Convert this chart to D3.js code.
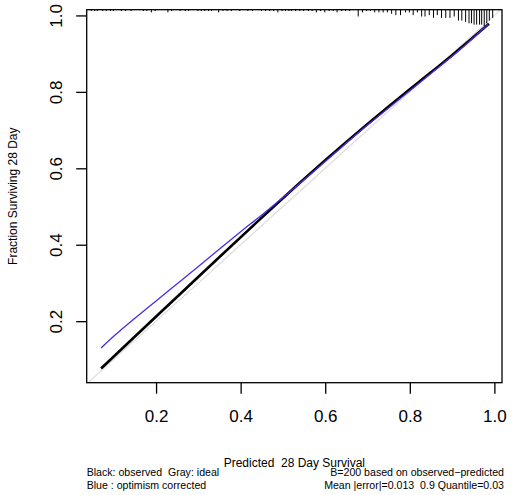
<!DOCTYPE html>
<html>
<head>
<meta charset="utf-8">
<script src="https://cdn.jsdelivr.net/npm/d3@7"></script>
<style>
  body { margin: 0; background: #fff; }
  svg { display: block; font-family: 'Liberation Sans', Arial, sans-serif; }
  text { white-space: pre; }
</style>
</head>
<body>
<div id="chart"></div>
<script>
'use strict'

// calibration curves (predicted -> fraction surviving)
const observedX = [0.070, 0.15, 0.25, 0.35, 0.45, 0.55, 0.60, 0.70, 0.80, 0.85, 0.90, 0.95, 0.987]
const observedY = [0.076, 0.160, 0.264, 0.368, 0.471, 0.572, 0.621, 0.716, 0.807, 0.851, 0.896, 0.943, 0.978]

const correctedX = [0.070, 0.09, 0.12, 0.16, 0.20, 0.25, 0.30, 0.35, 0.40, 0.45, 0.52, 0.60, 0.70, 0.80, 0.85, 0.90, 0.95, 0.985]
const correctedY = [0.130, 0.151, 0.180, 0.217, 0.253, 0.298, 0.343, 0.389, 0.434, 0.478, 0.542, 0.618, 0.713, 0.803, 0.848, 0.893, 0.941, 0.977]

// distribution of predicted values (rug along the top)
const rugPred = [0.047, 0.055, 0.061, 0.074, 0.082, 0.092, 0.099, 0.118, 0.128, 0.141, 0.170, 0.178, 0.189, 0.198,
    0.228, 0.237, 0.257, 0.269, 0.277, 0.299, 0.307, 0.315, 0.324, 0.331, 0.348, 0.358, 0.368, 0.378, 0.398,
    0.417, 0.428, 0.449, 0.459, 0.469, 0.478, 0.488, 0.498, 0.506, 0.514,
    0.520, 0.530, 0.540, 0.549, 0.560, 0.569, 0.579, 0.589, 0.599, 0.609, 0.619, 0.628, 0.639, 0.648, 0.658,
    0.678, 0.688, 0.698, 0.707, 0.717, 0.727, 0.737, 0.747, 0.757, 0.767, 0.778, 0.790, 0.799, 0.808, 0.818,
    0.828, 0.836, 0.846, 0.856, 0.865, 0.875, 0.885, 0.895, 0.905, 0.915, 0.923, 0.932, 0.940, 0.946, 0.952,
    0.958, 0.965, 0.970, 0.976, 0.982, 0.988, 0.996]
const rugCount = [1, 1, 1, 1, 1, 1, 1, 1, 1, 1, 1, 1, 2, 1,
    2, 1, 1, 1, 1, 1, 1, 1, 1, 1, 2, 1, 1, 1, 1,
    1, 1, 1, 1, 1, 1, 2, 1, 1, 1,
    1, 1, 1, 1, 1, 1, 2, 1, 2, 1, 1, 2, 1, 1, 1,
    5, 2, 1, 1, 2, 2, 2, 2, 3, 4, 4, 2, 2, 4, 2,
    5, 5, 4, 6, 4, 6, 6, 6, 5, 8, 8, 9, 10, 10, 11,
    11, 11, 11, 12, 10, 8, 6]

const xTicks = [0.2, 0.4, 0.6, 0.8, 1.0]
const yTicks = [0.2, 0.4, 0.6, 0.8, 1.0]

const width = 512,
    height = 495,
    box = { left: 86.7, right: 502, top: 9.7, bottom: 382.7 }

const x = d3.scaleLinear().domain([0.036, 1.018]).range([box.left, box.right])
const y = d3.scaleLinear().domain([0.039, 1.015]).range([box.bottom, box.top])
const rugLen = d3.scaleLinear().domain([0, d3.max(rugCount)]).range([0, 16.3])

const svg = d3.select('#chart')
    .append('svg')
    .attr('width', width)
    .attr('height', height)

svg.append('clipPath')
    .attr('id', 'plot-clip')
    .append('rect')
    .attr('x', box.left)
    .attr('y', box.top)
    .attr('width', box.right - box.left)
    .attr('height', box.bottom - box.top)

const plot = svg.append('g').attr('clip-path', 'url(#plot-clip)')

// ideal line
plot.append('line')
    .attr('x1', x(0)).attr('y1', y(0))
    .attr('x2', x(1.1)).attr('y2', y(1.1))
    .attr('stroke', '#dedede')
    .attr('stroke-width', 1.2)

const line = d3.line()
    .x(d => x(d[0]))
    .y(d => y(d[1]))
    .curve(d3.curveMonotoneX)

plot.append('path')
    .datum(observedX.map((v, i) => [v, observedY[i]]))
    .attr('d', line)
    .attr('fill', 'none')
    .attr('stroke', '#000')
    .attr('stroke-width', 2.6)

plot.append('path')
    .datum(correctedX.map((v, i) => [v, correctedY[i]]))
    .attr('d', line)
    .attr('fill', 'none')
    .attr('stroke', '#5128ec')
    .attr('stroke-width', 1.3)

// rug of predicted values
svg.append('g')
    .selectAll('line')
    .data(rugPred.map((v, i) => ({ p: v, n: rugCount[i] })))
    .enter()
    .append('line')
    .attr('x1', d => x(d.p)).attr('x2', d => x(d.p))
    .attr('y1', box.top)
    .attr('y2', d => box.top + rugLen(d.n))
    .attr('stroke', '#000')
    .attr('stroke-width', 1)

// frame
svg.append('rect')
    .attr('x', box.left)
    .attr('y', box.top)
    .attr('width', box.right - box.left)
    .attr('height', box.bottom - box.top)
    .attr('fill', 'none')
    .attr('stroke', '#000')
    .attr('stroke-width', 1.3)

const xAxis = svg.append('g')
    .attr('transform', `translate(0,${box.bottom})`)
    .call(d3.axisBottom(x).tickValues(xTicks).tickFormat(d3.format('.1f')).tickSize(11))
xAxis.select('.domain').remove()
xAxis.selectAll('line').attr('stroke-width', 1.3)
xAxis.selectAll('text')
    .attr('y', 39)
    .attr('dy', 0)
    .attr('fill', '#000')
    .style('font-size', '17px')
    .style('font-family', "'Liberation Sans', Arial, sans-serif")

const yAxis = svg.append('g')
    .attr('transform', `translate(${box.left},0)`)
    .call(d3.axisLeft(y).tickValues(yTicks).tickFormat(d3.format('.1f')).tickSize(10.5))
yAxis.select('.domain').remove()
yAxis.selectAll('line').attr('stroke-width', 1.3)
yAxis.selectAll('text')
    .attr('x', 0)
    .attr('dy', 0)
    .attr('text-anchor', 'middle')
    .attr('transform', 'translate(-24.5,0) rotate(-90)')
    .attr('fill', '#000')
    .style('font-size', '17px')
    .style('font-family', "'Liberation Sans', Arial, sans-serif")

svg.append('text')
    .attr('transform', `translate(16.5,${(box.top + box.bottom) / 2}) rotate(-90)`)
    .attr('text-anchor', 'middle')
    .style('font-size', '12px')
    .text('Fraction Surviving 28 Day')

svg.append('text')
    .attr('x', (box.left + box.right) / 2)
    .attr('y', 466.5)
    .attr('text-anchor', 'middle')
    .style('font-size', '12px')
    .text('Predicted  28 Day Survival')

const notes = [
    { t: 'Black: observed  Gray: ideal', x: box.left, y: 476, a: 'start' },
    { t: 'Blue : optimism corrected', x: box.left, y: 489, a: 'start' },
    { t: 'B=200 based on observed\u2212predicted', x: 504, y: 476, a: 'end' },
    { t: 'Mean |error|=0.013  0.9 Quantile=0.03', x: 504, y: 489, a: 'end' }
]

svg.append('g')
    .selectAll('text')
    .data(notes)
    .enter()
    .append('text')
    .attr('x', d => d.x)
    .attr('y', d => d.y)
    .attr('text-anchor', d => d.a)
    .style('font-size', '10.6px')
    .text(d => d.t)
</script>
</body>
</html>
